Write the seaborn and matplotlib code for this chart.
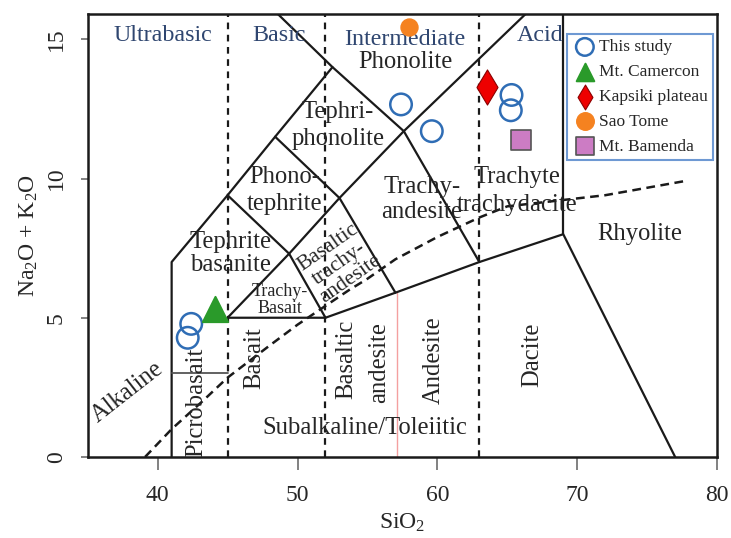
import numpy as np
import pandas as pd
import matplotlib
matplotlib.use('Agg')
import matplotlib.pyplot as plt
import seaborn as sns

sns.set_style('ticks')
plt.rcParams['font.family'] = ['Liberation Serif', 'DejaVu Serif']
plt.rcParams['mathtext.fontset'] = 'custom'
plt.rcParams['mathtext.rm'] = 'Liberation Serif'
plt.rcParams['mathtext.it'] = 'Liberation Serif:italic'

# samples (SiO2, Na2O+K2O)
study_sio2 = [57.4, 59.6, 65.3, 65.25, 42.4, 42.15]
study_alk = [12.66, 11.7, 13.0, 12.45, 4.78, 4.28]
camercon_sio2 = [44.1]
camercon_alk = [5.3]
kapsiki_sio2 = [63.55]
kapsiki_alk = [13.27]
saotome_sio2 = [57.95]
saotome_alk = [15.43]
bamenda_sio2 = [66.0]
bamenda_alk = [11.4]

# TAS field boundaries
boundaries = [
    [(41, 0), (41, 7), (45, 9.4), (48.4, 11.5), (52.5, 14), (48.4, 16)],
    [(45, 5), (52, 5), (57, 5.9), (63, 7), (69, 8), (77, 0)],
    [(69, 8), (69, 16)],
    [(45, 5), (49.4, 7.3), (53, 9.3), (57.6, 11.7), (66.5, 16)],
    [(45, 9.4), (49.4, 7.3), (52, 5)],
    [(48.4, 11.5), (53, 9.3), (57, 5.9)],
    [(52.5, 14), (57.6, 11.7), (63, 7)],
]
silica_divisions = [45, 52, 63]

# alkaline / subalkaline divide
divide_sio2 = [39.1, 41, 43.2, 45, 48, 50, 53.7, 55, 57, 60, 63, 65, 72, 77.6]
divide_alk = [0, 1.0, 2.0, 2.85, 4.0, 4.75, 6.0, 6.4, 7.1, 7.9, 8.6, 9.0, 9.4, 9.9]

group_labels = [(40.4, 15.14, 'Ultrabasic'), (48.7, 15.14, 'Basic'),
                (57.7, 15.0, 'Intermediate'), (67.35, 15.14, 'Acid')]

# x, y, text, size, rotation, linespacing
field_labels = [
    (57.7, 14.17, 'Phonolite', 17.7, 0, 1.0),
    (52.9, 11.9, 'Tephri-\nphonolite', 17.7, 0, 1.3),
    (49.1, 9.57, 'Phono-\ntephrite', 17.7, 0, 1.3),
    (58.9, 9.24, 'Trachy-\nandesite', 17.7, 0, 1.2),
    (65.7, 9.55, 'Trachyte\ntrachydacite', 17.7, 0, 1.4),
    (74.45, 7.99, 'Rhyolite', 17.7, 0, 1.0),
    (45.2, 7.3, 'Tephrite\nbasanite', 17.7, 0, 1.05),
    (53.0, 6.95, 'Basaltic\ntrachy-\nandesite', 15.5, 35, 1.0),
    (48.76, 5.65, 'Trachy-\nBasait', 13, 0, 1.0),
    (37.85, 2.34, 'Alkaline', 17.7, 38, 1.0),
    (42.75, 1.98, 'Picrobasait', 17.7, 90, 1.0),
    (46.9, 3.56, 'Basait', 17.7, 90, 1.0),
    (53.5, 3.49, 'Basaltic', 17.7, 90, 1.0),
    (55.8, 3.38, 'andesite', 17.7, 90, 1.0),
    (59.75, 3.49, 'Andesite', 17.7, 90, 1.0),
    (66.8, 3.67, 'Dacite', 17.7, 90, 1.0),
    (54.8, 1.04, 'Subalkaline/Toleiitic', 17.7, 0, 1.0),
]

fig = plt.figure(figsize=(7.31, 5.38), dpi=100)
ax = fig.add_axes([0.120, 0.1506, 0.861, 0.823])

for seg in boundaries:
    xs, ys = zip(*seg)
    ax.plot(xs, ys, color='#1a1a1a', lw=1.6, zorder=2)
for xv in silica_divisions:
    ax.plot([xv, xv], [0, 16], color='#1a1a1a', lw=1.6, dashes=(3, 2.5), zorder=2)
ax.plot([41, 45], [3, 3], color='#555555', lw=1.3, zorder=2)
ax.plot([57.1, 57.1], [0, 5.9], color='#f4a0a0', lw=1.0, zorder=1)
sns.lineplot(x=divide_sio2, y=divide_alk, ax=ax, color='#1a1a1a', lw=1.8,
             dashes=False, sort=False, zorder=2).lines[-1].set_dashes((3.5, 2.2))

sns.scatterplot(x=study_sio2, y=study_alk, ax=ax, marker='o', s=240,
                facecolor='none', edgecolor='#2f6db5', linewidth=1.8,
                label='This study', zorder=4)
sns.scatterplot(x=camercon_sio2, y=camercon_alk, ax=ax, marker='^', s=330,
                color='#2a9a2a', edgecolor='#2a9a2a', label='Mt. Camercon', zorder=4)
sns.scatterplot(x=kapsiki_sio2, y=kapsiki_alk, ax=ax, marker='d', s=320,
                color='#ee0000', edgecolor='#8a0000', linewidth=0.8,
                label='Kapsiki plateau', zorder=4)
sns.scatterplot(x=saotome_sio2, y=saotome_alk, ax=ax, marker='o', s=150,
                color='#f58220', edgecolor='#f58220', label='Sao Tome', zorder=4)
sns.scatterplot(x=bamenda_sio2, y=bamenda_alk, ax=ax, marker='s', s=200,
                color='#cc7cc4', edgecolor='#555555', linewidth=1.2,
                label='Mt. Bamenda', zorder=4)

for x, y, t in group_labels:
    ax.text(x, y, t, color='#2f4670', fontsize=17.3, ha='center', va='center')
for x, y, t, fs, rot, ls in field_labels:
    ax.text(x, y, t, fontsize=fs, rotation=rot, ha='center', va='center',
            linespacing=ls, rotation_mode='anchor')

ax.set_xlim(35, 80)
ax.set_ylim(0, 15.9)
ax.set_xticks([40, 50, 60, 70, 80])
ax.set_yticks([0, 5, 10, 15])
ax.tick_params(axis='x', direction='out', length=9, width=1.3, color='#777777',
               labelsize=17, pad=11)
ax.tick_params(axis='y', direction='out', length=5, width=1.3, color='#777777',
               labelsize=17, pad=10, labelrotation=90)
for lbl in ax.get_yticklabels():
    lbl.set_va('center')
for sp in ax.spines.values():
    sp.set_linewidth(1.8)
    sp.set_color('#1a1a1a')
ax.set_xlabel('SiO$_2$', fontsize=17, labelpad=4)
ax.set_ylabel('Na$_2$O + K$_2$O', fontsize=17, labelpad=4)

leg = ax.legend(loc='upper right', bbox_to_anchor=(0.993, 0.955), fontsize=12.5,
                frameon=True, fancybox=False, borderpad=0.3, handletextpad=0.05,
                labelspacing=0.5, handlelength=1.5, borderaxespad=0)
leg.get_frame().set_edgecolor('#4a80c8')
leg.get_frame().set_linewidth(1.5)
for h in leg.legend_handles:
    h.set_sizes([160])

fig.savefig('out.png', dpi=100)
